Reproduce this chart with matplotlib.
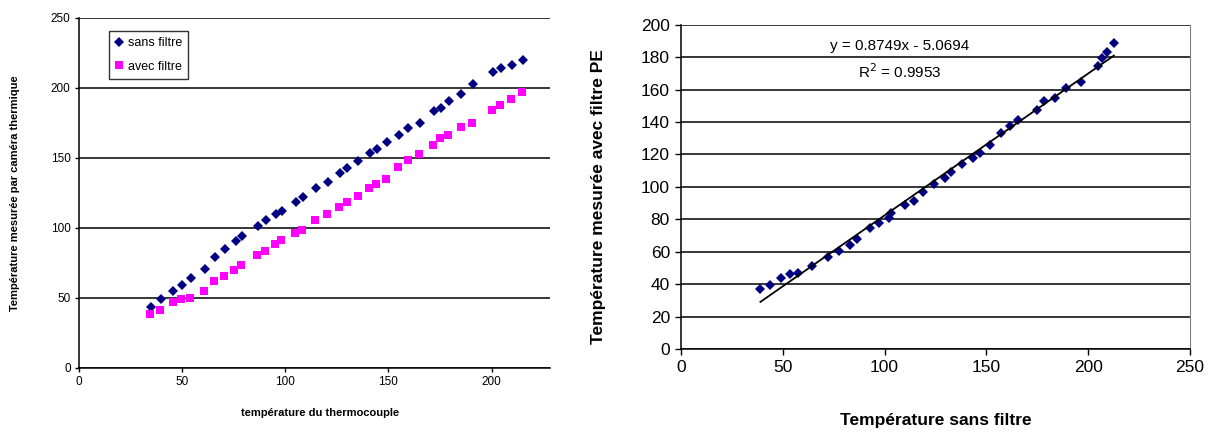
import numpy as np
import matplotlib
matplotlib.use("Agg")
import matplotlib.pyplot as plt

plt.rcParams['font.family'] = ['Liberation Sans', 'DejaVu Sans']

# left chart: thermocouple temperature vs camera reading
tc_sans = [34.9, 39.9, 45.8, 49.9, 54.2, 60.9, 65.9, 70.9, 75.9, 79.0, 87.0, 90.7,
           95.5, 98.5, 105.0, 108.5, 115.0, 120.6, 126.5, 130.1, 135.4, 141.0, 144.3,
           149.4, 154.9, 159.7, 165.3, 172.0, 175.3, 179.2, 185.3, 190.9, 200.7, 204.6,
           210.0, 215.0]
cam_sans = [43.7, 49.4, 55.1, 58.9, 63.9, 70.5, 79.3, 85.0, 90.9, 94.0, 101.1, 105.4,
            110.2, 111.8, 118.2, 122.3, 128.2, 133.0, 139.4, 142.7, 147.7, 153.1, 156.5,
            161.2, 166.2, 171.2, 175.0, 183.1, 185.7, 190.6, 195.2, 202.8, 211.5, 214.2,
            216.5, 219.9]
tc_avec = [34.3, 39.5, 45.5, 49.4, 53.6, 60.5, 65.3, 70.3, 75.3, 78.7, 86.5, 90.2,
           95.2, 98.0, 104.5, 108.0, 114.5, 120.0, 126.2, 129.7, 135.1, 140.4, 144.0,
           148.8, 154.4, 159.4, 164.9, 171.4, 174.8, 178.7, 185.0, 190.4, 200.4, 204.3,
           209.6, 214.7]
cam_avec = [38.7, 41.3, 47.0, 49.6, 50.3, 54.8, 62.4, 65.5, 69.8, 73.6, 81.0, 83.6,
            88.3, 91.6, 96.6, 98.8, 105.4, 110.2, 114.9, 118.2, 123.0, 128.2, 131.5,
            135.1, 143.4, 148.1, 152.4, 158.8, 163.8, 166.2, 171.9, 174.7, 184.0, 188.0,
            192.1, 197.1]

# right chart: with filter vs without filter
sans_f = [39.0, 43.8, 49.3, 53.4, 57.5, 64.1, 72.3, 77.4, 82.8, 86.5, 92.9, 97.2,
          102.1, 103.3, 110.1, 114.4, 118.7, 124.3, 129.8, 132.5, 138.0, 143.2, 147.1,
          151.8, 157.1, 161.7, 165.6, 175.0, 178.3, 183.7, 189.0, 196.6, 205.0, 206.7,
          209.3, 212.6]
avec_f = [37.0, 39.3, 43.6, 46.0, 46.9, 51.2, 56.9, 60.2, 63.9, 67.8, 74.4, 77.5,
          81.0, 84.1, 88.8, 91.1, 97.0, 101.5, 105.2, 109.1, 114.1, 118.0, 121.1,
          125.6, 133.2, 137.7, 141.4, 147.4, 152.9, 154.8, 160.9, 164.9, 174.7, 179.2,
          182.9, 188.9]
slope, intercept, r2 = 0.8749, -5.0694, 0.9953

W, H = 1221, 432
fig = plt.figure(figsize=(W / 100, H / 100), dpi=100)

def box(x0, x1, ytop, ybot):
    return [x0 / W, 1 - ybot / H, (x1 - x0) / W, (ybot - ytop) / H]

navy = '#000080'
mag = '#FF00FF'

# ---- left
ax1 = fig.add_axes(box(79, 550, 17.7, 368))
ax1.plot(tc_sans, cam_sans, 'D', color=navy, ms=5, mew=0, label='sans filtre')
ax1.plot(tc_avec, cam_avec, 's', color=mag, ms=5.3, mew=0, label='avec filtre')
ax1.set_xlim(0, 228.3)
ax1.set_ylim(0, 250)
ax1.set_xticks([0, 50, 100, 150, 200])
ax1.set_yticks([0, 50, 100, 150, 200, 250])
ax1.yaxis.grid(True, color='black', lw=1.1)
ax1.set_axisbelow(True)
for s in ['top', 'right']:
    ax1.spines[s].set_visible(False)
for s in ['left', 'bottom']:
    ax1.spines[s].set_linewidth(1.1)
ax1.tick_params(labelsize=8.5, length=3, width=1, direction='out', pad=3)
leg = ax1.legend(loc='upper left', bbox_to_anchor=((109 - 79) / 471, (368 - 31) / 350.3),
                 fontsize=9, frameon=True, fancybox=False, edgecolor='black',
                 handlelength=0.6, handletextpad=0.4, borderpad=0.5, labelspacing=0.9,
                 borderaxespad=0)
leg.get_frame().set_linewidth(1)
fig.text(15 / W, 1 - 193 / H, 'Température mesurée par caméra thermique', rotation=90,
         ha='center', va='center', fontsize=8, fontweight='bold')
fig.text(320 / W, 1 - 413 / H, 'température du thermocouple',
         ha='center', va='center', fontsize=8, fontweight='bold')

# ---- right
ax2 = fig.add_axes(box(681, 1190, 24.7, 349))
ax2.plot(sans_f, avec_f, 'D', color=navy, ms=5, mew=0)
xs = np.array([min(sans_f), max(sans_f)])
ax2.plot(xs, slope * xs + intercept, color='black', lw=1.3)
ax2.set_xlim(0, 250)
ax2.set_ylim(0, 200)
ax2.set_xticks(np.arange(0, 251, 50))
ax2.set_yticks(np.arange(0, 201, 20))
ax2.yaxis.grid(True, color='black', lw=1.1)
ax2.set_axisbelow(True)
ax2.spines['top'].set_visible(False)
ax2.spines['right'].set_color('#808080')
for s in ['left', 'bottom']:
    ax2.spines[s].set_linewidth(1.1)
ax2.tick_params(labelsize=12.5, length=4, width=1, direction='out', pad=4)
fig.text(900 / W, 1 - 46 / H, f'y = {slope}x - {abs(intercept)}',
         ha='center', va='center', fontsize=11)
fig.text(900 / W, 1 - 72 / H, f'R$^2$ = {r2}',
         ha='center', va='center', fontsize=11)
fig.text(598 / W, 1 - 197 / H, 'Température mesurée avec filtre PE', rotation=90,
         ha='center', va='center', fontsize=12.5, fontweight='bold')
fig.text(936 / W, 1 - 420 / H, 'Température sans filtre',
         ha='center', va='center', fontsize=12.5, fontweight='bold')

fig.savefig('out.png', dpi=100)
